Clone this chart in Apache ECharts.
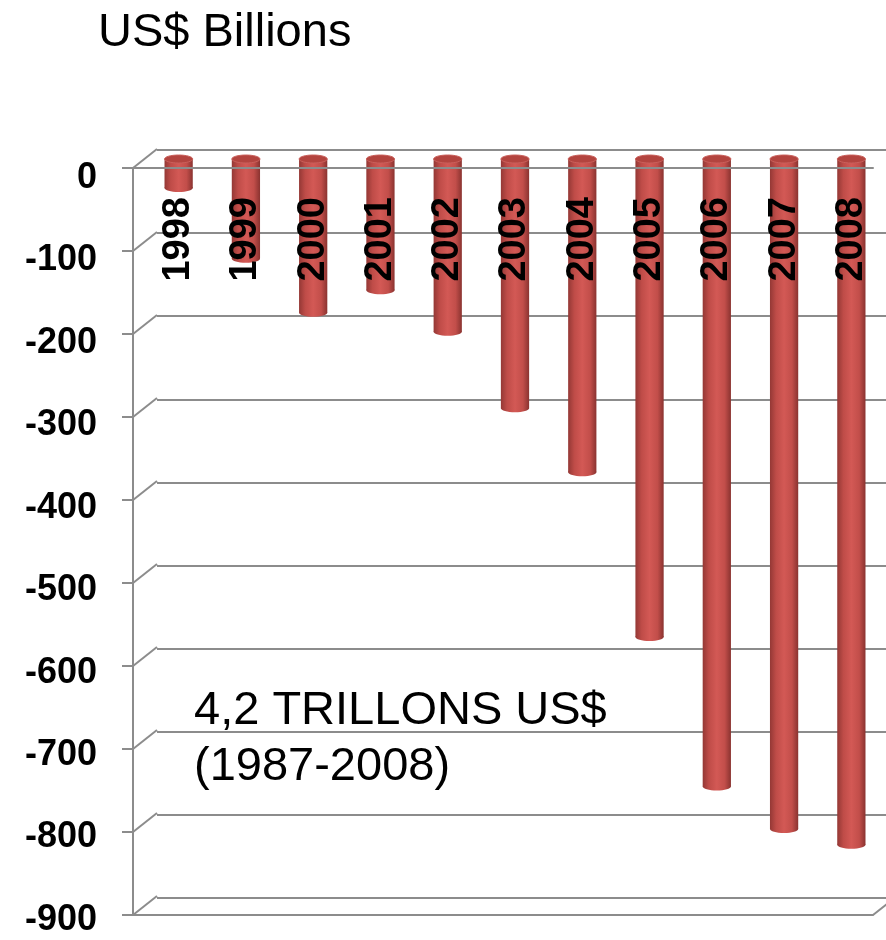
<!DOCTYPE html>
<html>
<head>
<meta charset="utf-8">
<title>US$ Billions</title>
<script src="https://cdn.jsdelivr.net/npm/echarts@6/dist/echarts.min.js"></script>
<style>
    html, body { margin: 0; padding: 0; background: #fff; }
    #main { width: 886px; height: 940px; }
</style>
</head>
<body>
<div id="main"></div>
<script>
    // 数据
    var years = ['1998', '1999', '2000', '2001', '2002', '2003', '2004', '2005', '2006', '2007', '2008'];
    var deficits = [-35, -120, -185, -158, -208, -300, -377, -575, -755, -806, -825];
    var yTicks = [0, -100, -200, -300, -400, -500, -600, -700, -800, -900];

    var gridColor = '#8c8c8c';
    var font = '"Liberation Sans", Arial, sans-serif';

    // 圆柱颜色
    var sideColor = function(){
        return new echarts.graphic.LinearGradient(0, 0, 1, 0, [
            {offset: 0, color: '#943835'},
            {offset: 0.22, color: '#bf4c48'},
            {offset: 0.5, color: '#d35955'},
            {offset: 0.78, color: '#c24e4a'},
            {offset: 1, color: '#8a3330'}
        ]);
    };

    var barData = years.map(function(y, i){ return [i, deficits[i]]; });
    var tickData = yTicks.map(function(v){ return [0, v]; });

    var option = {
        animation: false,
        textStyle: { fontFamily: font },
        title: {
            text: 'US$ Billions',
            left: 93,
            top: 5,
            textStyle: { fontSize: 47, fontWeight: 'normal', color: '#000', fontFamily: font }
        },
        graphic: [
            {
                type: 'text',
                left: 194,
                top: 683,
                style: {
                    text: '4,2 TRILLONS US$\n(1987-2008)',
                    font: '47px ' + font,
                    lineHeight: 56,
                    fill: '#000'
                }
            }
        ],
        grid: [
            // 后墙
            {left: 157, top: 150, width: 740, height: 748},
            // 前面
            {left: 133, top: 168, width: 740, height: 747},
            // 中间（柱子）
            {left: 145, top: 159, width: 740, height: 748},
            // 刻度文字
            {left: 133, top: 178, width: 740, height: 742}
        ],
        xAxis: [
            {gridIndex: 0, type: 'category', data: years, show: false},
            {
                gridIndex: 1, type: 'category', data: years, position: 'top', z: 5,
                axisLine: {lineStyle: {color: gridColor, width: 2}},
                axisTick: {inside: true, length: 13, lineStyle: {color: gridColor, width: 2}},
                axisLabel: {show: false}
            },
            {
                gridIndex: 1, type: 'category', data: years, position: 'bottom',
                axisLine: {lineStyle: {color: gridColor, width: 2}},
                axisTick: {show: false},
                axisLabel: {show: false}
            },
            {
                gridIndex: 2, type: 'category', data: years, position: 'top', z: 10,
                axisLine: {show: false},
                axisTick: {show: false},
                axisLabel: {
                    inside: true,
                    rotate: 90,
                    margin: 38,
                    fontSize: 38,
                    fontWeight: 'bold',
                    color: '#000',
                    fontFamily: font
                }
            },
            {gridIndex: 3, type: 'category', data: years, show: false}
        ],
        yAxis: [
            {
                gridIndex: 0, type: 'value', min: -900, max: 0, interval: 100,
                axisLine: {show: false}, axisTick: {show: false}, axisLabel: {show: false},
                splitLine: {lineStyle: {color: gridColor, width: 2}}
            },
            {
                gridIndex: 1, type: 'value', min: -900, max: 0, interval: 100,
                axisLine: {show: true, lineStyle: {color: gridColor, width: 2}},
                axisTick: {show: true, length: 11, lineStyle: {color: gridColor, width: 2}},
                splitLine: {show: false},
                axisLabel: {show: false}
            },
            {
                gridIndex: 2, type: 'value', min: -900, max: 0, interval: 100,
                show: false
            },
            {
                gridIndex: 3, type: 'value', min: -900, max: 0, interval: 100,
                axisLine: {show: false},
                axisTick: {show: false},
                splitLine: {show: false},
                axisLabel: {
                    margin: 36,
                    fontSize: 36,
                    fontWeight: 'bold',
                    color: '#000',
                    fontFamily: font
                }
            }
        ],
        series: [
            {
                // 斜线：前面到后墙
                type: 'custom',
                xAxisIndex: 1,
                yAxisIndex: 1,
                data: tickData,
                silent: true,
                z: 1,
                renderItem: function(params, api){
                    var p = api.coord([api.value(0), api.value(1)]);
                    var x0 = p[0] - api.size([1, 0])[0] / 2;
                    return {
                        type: 'line',
                        shape: {x1: x0, y1: p[1], x2: x0 + 24, y2: p[1] - 19},
                        style: {stroke: gridColor, lineWidth: 2}
                    };
                }
            },
            {
                // 右下角斜线
                type: 'custom',
                xAxisIndex: 1,
                yAxisIndex: 1,
                data: [[years.length - 1, -900]],
                silent: true,
                z: 1,
                renderItem: function(params, api){
                    var p = api.coord([api.value(0), api.value(1)]);
                    var x0 = p[0] + api.size([1, 0])[0] / 2;
                    return {
                        type: 'line',
                        shape: {x1: x0, y1: p[1], x2: x0 + 24, y2: p[1] - 19},
                        style: {stroke: gridColor, lineWidth: 2}
                    };
                }
            },
            {
                // 圆柱
                type: 'custom',
                xAxisIndex: 3,
                yAxisIndex: 2,
                data: barData,
                encode: {x: 0, y: 1},
                z: 2,
                renderItem: function(params, api){
                    var i = api.value(0);
                    var top = api.coord([i, 0]);
                    var bot = api.coord([i, api.value(1)]);
                    var w = api.size([1, 0])[0] * 0.42;
                    var cx = top[0];
                    return {
                        type: 'group',
                        children: [
                            {
                                type: 'rect',
                                shape: {x: cx - w / 2, y: top[1], width: w, height: bot[1] - top[1]},
                                style: {fill: sideColor()}
                            },
                            {
                                type: 'ellipse',
                                shape: {cx: cx, cy: bot[1], rx: w / 2, ry: 4},
                                style: {fill: sideColor()}
                            },
                            {
                                type: 'ellipse',
                                shape: {cx: cx, cy: top[1], rx: w / 2, ry: 4},
                                style: {fill: '#b3443f', stroke: '#c9605b', lineWidth: 1}
                            }
                        ]
                    };
                }
            }
        ]
    };

    echarts.init(document.getElementById('main')).setOption(option);
</script>
</body>
</html>
